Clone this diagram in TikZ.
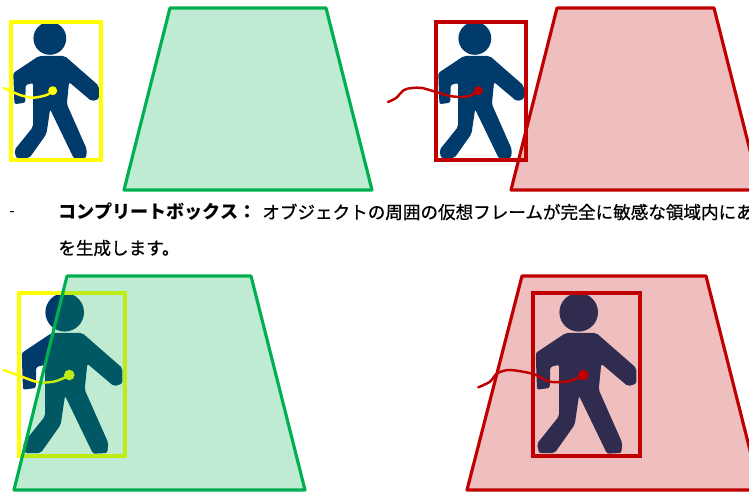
\documentclass[tikz,border=0pt]{standalone}
\usepackage{fontspec}
\newfontfamily\jpfont{Noto Sans CJK JP}
\newfontfamily\jpmedium[FakeBold=0.8]{Noto Sans CJK JP}
\begin{document}
\begin{tikzpicture}[x=0.02cm,y=-0.02cm,
  walker/.pic={
    % head
    \fill[figblue] (45.7,19.3) circle (19.3);
    % body, arms and legs
    \fill[figblue,rounded corners=1.2pt] (32.7,40) -- (63.3,40) -- (103.3,75) -- (103.3,90.7)
      -- (95,93.3) -- (68.3,70.7) -- (65.7,96.7) -- (89.3,150) -- (88.3,160) -- (74,160.7)
      -- (46,102.7) -- (41.7,131.7) -- (21.7,160) -- (6,160) -- (4,150.7) -- (26,123.3)
      -- (26,71.7) -- (17.3,74) -- (16.7,95) -- (4,96.7) -- (2.7,60) -- cycle;
  },
  boxline/.style={line width=2pt},
  wire/.style={line width=1.4pt,line cap=round},
  zone/.style={line width=1.8pt,line join=round,fill opacity=0.25}]

% Define the colors
\definecolor{figblue}{RGB}{0,59,108}
\definecolor{boxyellow}{RGB}{255,255,0}
\definecolor{zonegreen}{RGB}{0,176,80}
\definecolor{zonered}{RGB}{192,0,0}

\clip (0,0) rectangle (749,492);

% Top left: person outside the green area
\pic[scale=0.85] at (11,22) {walker};
\draw[boxline,boxyellow] (11,22) rectangle (101,160);
\draw[wire,boxyellow] plot[smooth] coordinates {(4,88) (20,95) (33,97.7) (46.7,95) (52.7,90.7)};
\fill[boxyellow] (52.7,90.7) circle (4.5);
\draw[zone,draw=zonegreen,fill=zonegreen] (170,8) -- (326,8) -- (372,190) -- (124,190) -- cycle;

% Top right: person outside the red area
\pic[scale=0.85] at (436,22) {walker};
\draw[boxline,zonered] (436,22) rectangle (526,160);
\draw[wire,zonered] plot[smooth] coordinates {(388,102) (396,98) (404,90) (412,88) (422,88)
  (436,92) (450,96) (463,97) (472,95) (478.3,90.7)};
\fill[zonered] (478.3,90.7) circle (4.5);
\draw[zone,draw=zonered,fill=zonered] (557,8) -- (714,8) -- (760,190) -- (511,190) -- cycle;

% Text lines
\node[anchor=center,inner sep=0,font=\jpfont\fontsize{9}{11}\selectfont] (dash) at (12,214.5) {-};
\node[anchor=west,inner sep=0,font=\jpfont\bfseries\fontsize{10.3}{12}\selectfont] (title) at (58,212) {コンプリートボックス：};
\node[anchor=west,inner sep=0,font=\jpmedium\fontsize{10}{12}\selectfont] (desc) at (262,212) {オブジェクトの周囲の仮想フレームが完全に敏感な領域内にあ};
\node[anchor=west,inner sep=0,font=\jpmedium\fontsize{10}{12}\selectfont] (tail) at (58,248) {を生成します。};

% Bottom left: person partly in the green area
\pic at (19,293) {walker};
\draw[boxline,boxyellow] (19,293) rectangle (125,456);
\draw[wire,boxyellow] plot[smooth] coordinates {(3.3,370) (20,376) (38.3,382.3) (53.3,381.7) (63.3,378.3) (69.3,375)};
\fill[boxyellow] (69.3,375) circle (5.3);
\draw[zone,draw=zonegreen,fill=zonegreen] (67,276) -- (251,276) -- (305,490) -- (14,490) -- cycle;

% Bottom right: person fully in the red area
\pic at (533,293) {walker};
\draw[boxline,zonered] (533,293) rectangle (640,456);
\draw[wire,zonered] plot[smooth] coordinates {(478.3,387.3) (490,381.7) (497.3,373.3) (510,370)
  (533.3,374) (550,381.7) (570,381) (583.3,375)};
\fill[zonered] (583.3,375) circle (5.3);
\draw[zone,draw=zonered,fill=zonered] (522,276) -- (706,276) -- (760,490) -- (467,490) -- cycle;

\end{tikzpicture}
\end{document}
